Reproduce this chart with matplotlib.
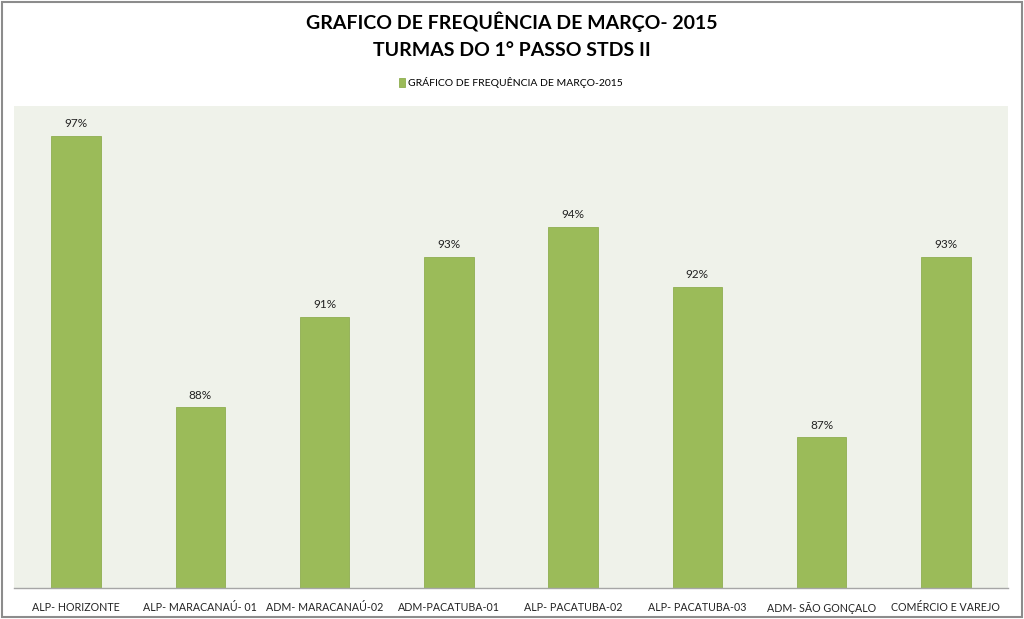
import matplotlib.pyplot as plt
from matplotlib.patches import Rectangle
import numpy as np

plt.rcParams['font.family'] = ['Lato', 'DejaVu Sans']

turmas = ['ALP- HORIZONTE', 'ALP- MARACANAÚ- 01', 'ADM- MARACANAÚ-02', 'ADM-PACATUBA-01',
          'ALP- PACATUBA-02', 'ALP- PACATUBA-03', 'ADM- SÃO GONÇALO', 'COMÉRCIO E VAREJO']
frequencia = [0.97, 0.88, 0.91, 0.93, 0.94, 0.92, 0.87, 0.93]
serie = 'GRÁFICO DE FREQUÊNCIA DE MARÇO-2015'

verde = '#9BBB59'

fig = plt.figure(figsize=(10.24, 6.19), dpi=100)
ax = fig.add_axes([14 / 1024, 1 - 588 / 619, 994 / 1024, 482 / 619])
ax.set_facecolor('#EFF2EA')

x = np.arange(len(turmas))
bars = ax.bar(x, frequencia, width=0.4, color=verde, edgecolor='#8FAE50', linewidth=0.6)
ax.set_xlim(-0.5, len(turmas) - 0.5)
ax.set_ylim(0.82, 0.98)

for b, v in zip(bars, frequencia):
    ax.text(b.get_x() + b.get_width() / 2, v + 0.0022, f'{v*100:.0f}%',
            ha='center', va='bottom', fontsize=8.5, color='#222222')

ax.set_xticks(x)
ax.set_xticklabels(turmas, fontsize=7.7, color='#222222')
ax.tick_params(axis='x', length=0, pad=10)
ax.set_yticks([])
for s in ['top', 'left', 'right']:
    ax.spines[s].set_visible(False)
ax.spines['bottom'].set_color('#A6A6A6')
ax.spines['bottom'].set_linewidth(1)

fig.text(0.5, 1 - 22 / 619, 'GRAFICO DE FREQUÊNCIA DE MARÇO- 2015', ha='center', va='center',
         fontsize=14, fontweight='bold')
fig.text(0.5, 1 - 50 / 619, 'TURMAS DO 1° PASSO STDS II', ha='center', va='center',
         fontsize=14, fontweight='bold')

leg = ax.legend([bars[0]], [serie], loc='lower center', bbox_to_anchor=(0.5, 1.0),
                frameon=False, fontsize=7.5, handlelength=0.6, handleheight=0.9,
                handletextpad=0.3, borderaxespad=1.3)

fig.patches.append(Rectangle((0.002, 0.004), 0.996, 0.992, transform=fig.transFigure,
                             fill=False, edgecolor='#8C8C8C', linewidth=1.5))

fig.savefig('out.png', dpi=100)
